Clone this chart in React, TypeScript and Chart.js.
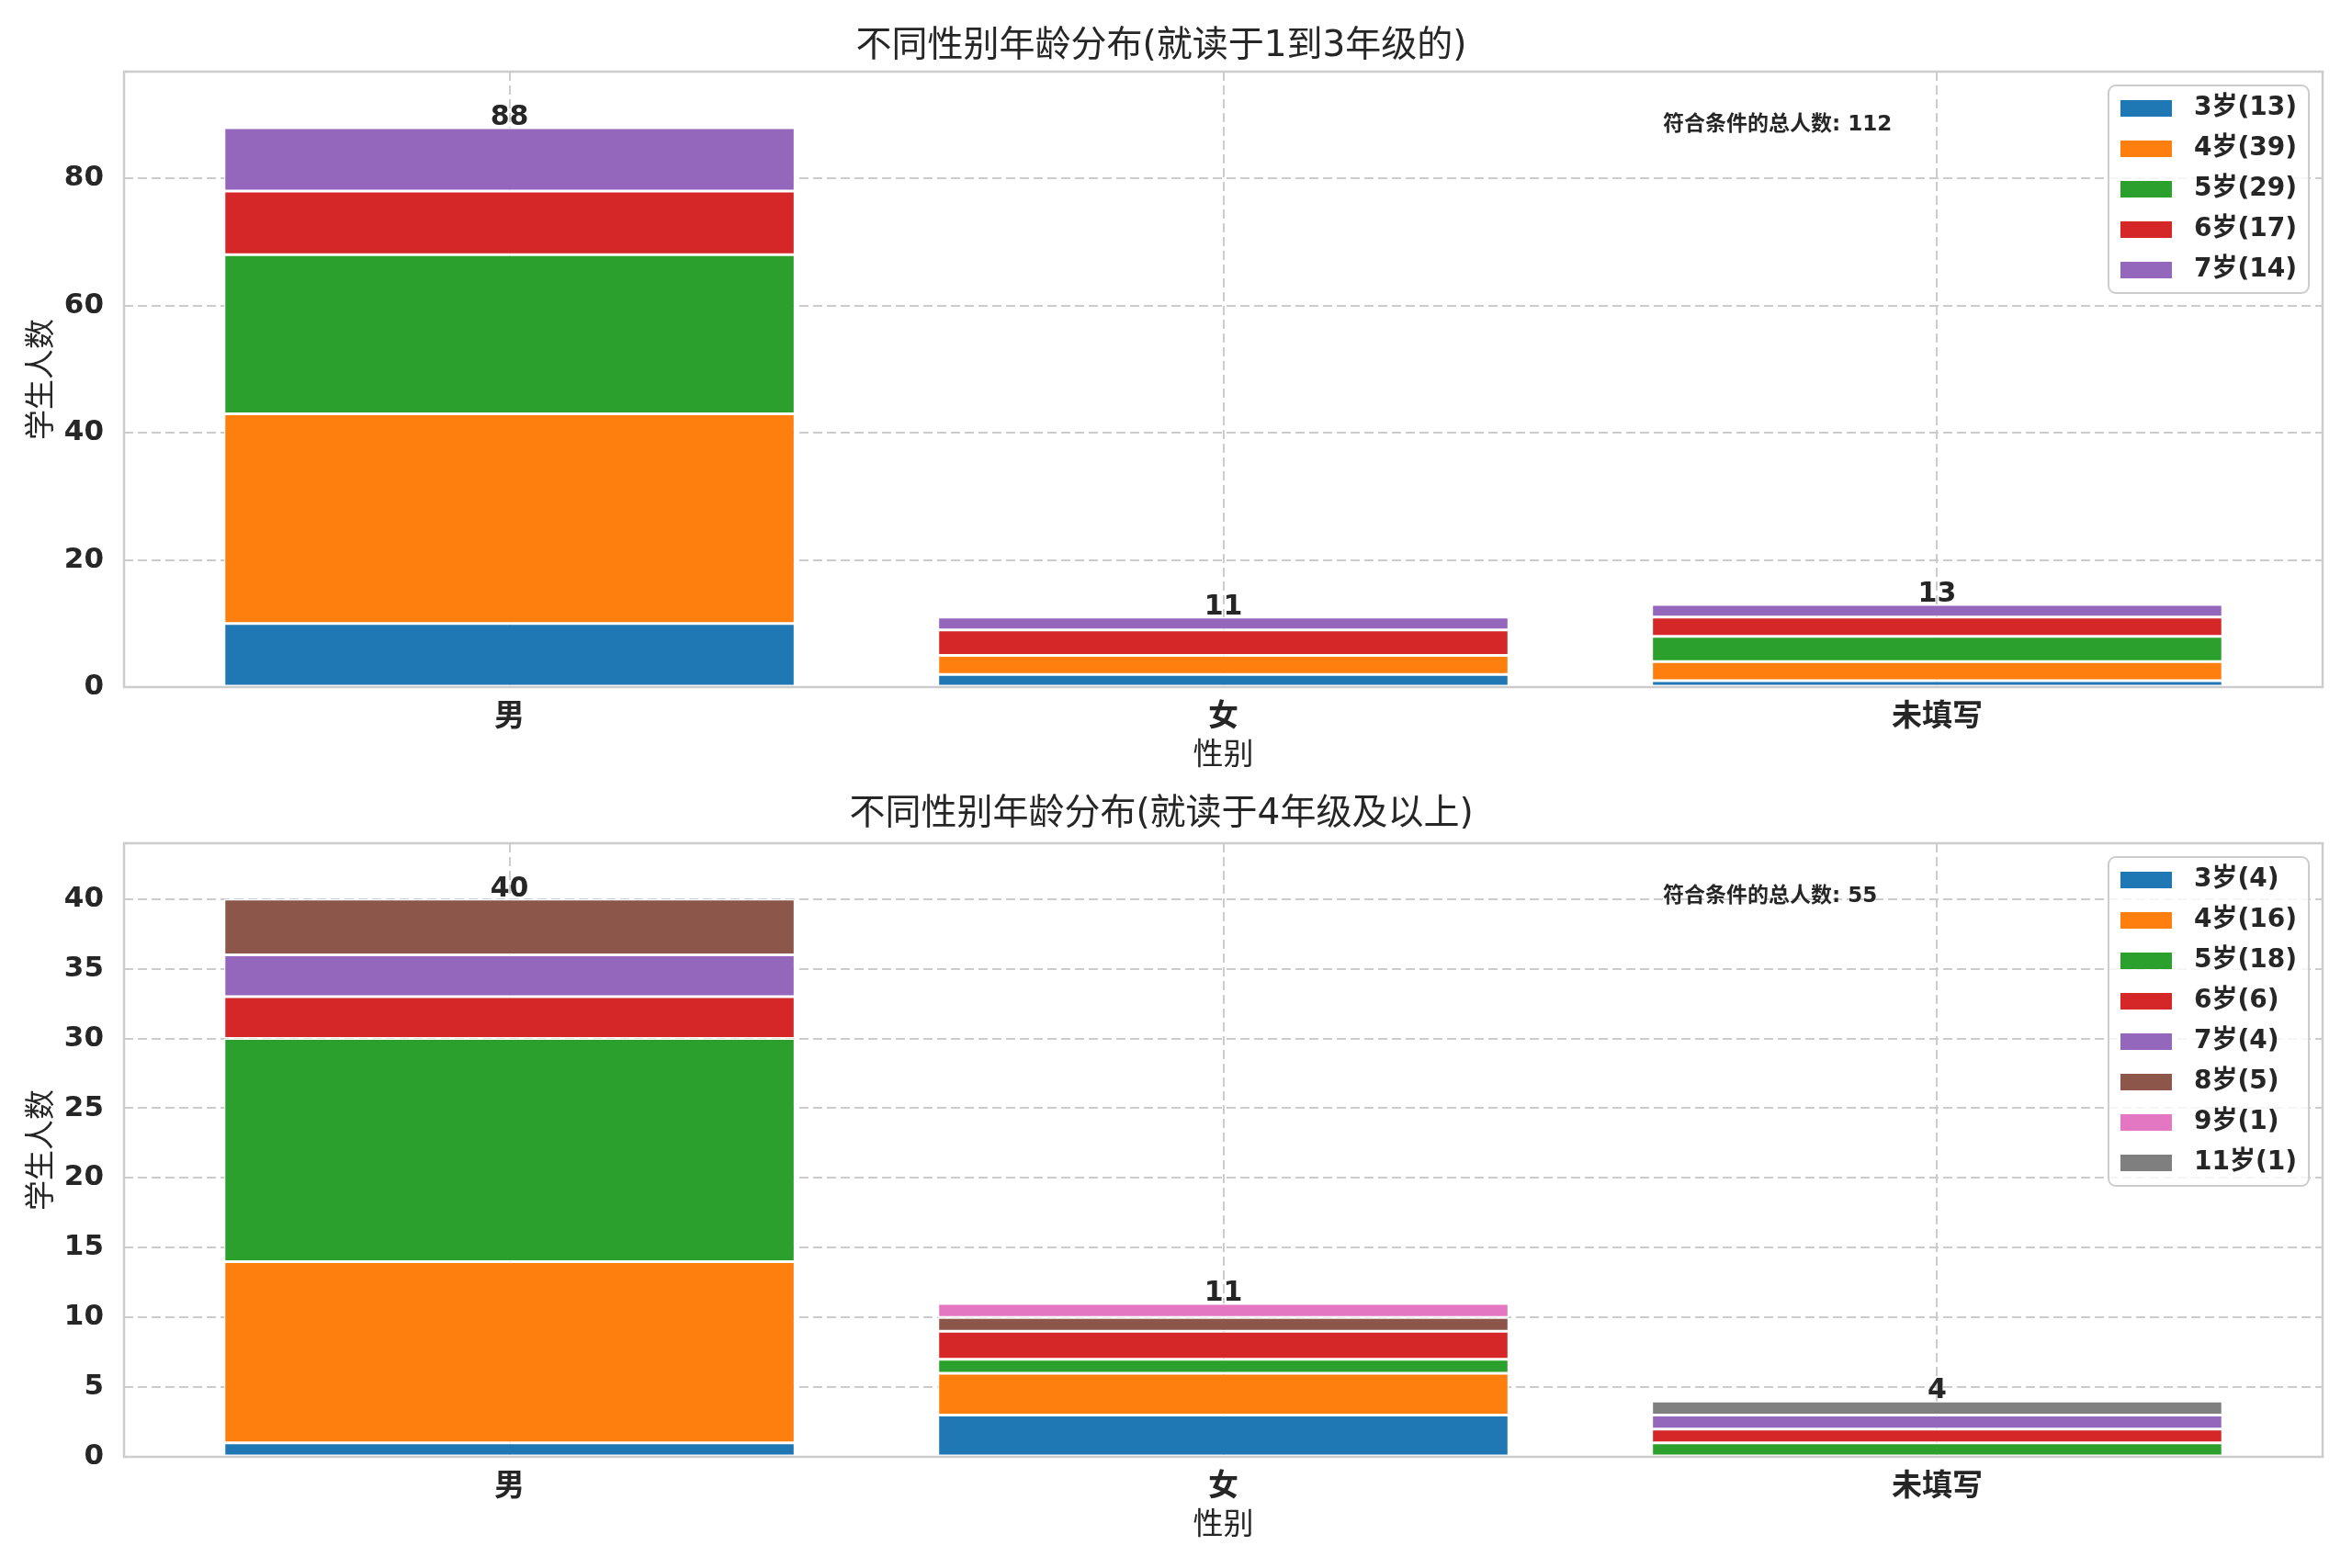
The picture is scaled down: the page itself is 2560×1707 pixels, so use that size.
import React, { useEffect, useRef } from 'react';
import { Chart, registerables, type ChartConfiguration, type Plugin } from 'chart.js';

Chart.register(...registerables);

const FONT = "'DejaVu Sans', 'Noto Sans CJK SC', sans-serif";
const INK = '#262626';
const GRID = '#cccccc';

const genders = ['男', '女', '未填写'];
const xTitle = '性别';
const yTitle = '学生人数';
const totalLabel = '符合条件的总人数';

// grades 1-3
const lowerTitle = '不同性别年龄分布(就读于1到3年级的)';
const lowerAges = ['3岁', '4岁', '5岁', '6岁', '7岁'];
const lowerCounts = [
  [10, 2, 1],
  [33, 3, 3],
  [25, 0, 4],
  [10, 4, 3],
  [10, 2, 2],
];
const lowerStep = 20;

// grades 4+
const upperTitle = '不同性别年龄分布(就读于4年级及以上)';
const upperAges = ['3岁', '4岁', '5岁', '6岁', '7岁', '8岁', '9岁', '11岁'];
const upperCounts = [
  [1, 3, 0],
  [13, 3, 0],
  [16, 1, 1],
  [3, 2, 1],
  [3, 0, 1],
  [4, 1, 0],
  [0, 1, 0],
  [0, 0, 1],
];
const upperStep = 5;

const palette = ['#1f77b4', '#ff7f0e', '#2ca02c', '#d62728', '#9467bd', '#8c564b', '#e377c2', '#7f7f7f'];

const sum = (a: number[]) => a.reduce((s, v) => s + v, 0);

interface PanelProps {
  title: string;
  ages: string[];
  counts: number[][];
  step: number;
  height: number;
  plotTop: number;
  plotBottom: number;
  titleMid: number;
}

const overlay: Plugin = {
  id: 'overlay',
  afterDatasetsDraw(chart, _args, opts: any) {
    const { ctx, chartArea: area } = chart;
    const xs = chart.scales.x;
    const ys = chart.scales.y;
    const ages: string[] = opts.ages;
    const counts: number[][] = opts.counts;
    ctx.save();

    // spines
    ctx.strokeStyle = GRID;
    ctx.lineWidth = 2.5;
    ctx.strokeRect(area.left, area.top, area.right - area.left, area.bottom - area.top);

    // totals above bars
    ctx.fillStyle = INK;
    ctx.font = `bold 30px ${FONT}`;
    ctx.textAlign = 'center';
    ctx.textBaseline = 'alphabetic';
    genders.forEach((_, i) => {
      const total = sum(counts.map((row) => row[i]));
      ctx.fillText(String(total), xs.getPixelForValue(i), ys.getPixelForValue(total) - 3);
    });

    // grand total note
    const grand = sum(counts.map(sum));
    ctx.font = `bold 23px ${FONT}`;
    ctx.textAlign = 'left';
    ctx.textBaseline = 'middle';
    ctx.fillText(
      `${totalLabel}: ${grand}`,
      area.left + 0.7 * (area.right - area.left),
      area.top + 0.087 * (area.bottom - area.top)
    );

    // legend
    const labels = ages.map((a, k) => `${a}(${sum(counts[k])})`);
    ctx.font = `bold 28px ${FONT}`;
    const textW = Math.max(...labels.map((l) => ctx.measureText(l).width));
    const pad = 13;
    const patchW = 56;
    const gap = 24;
    const rowH = 44;
    const first = 25;
    const w = pad + patchW + gap + textW + pad;
    const h = first * 2 + (labels.length - 1) * rowH;
    const right = area.right - 15;
    const left = right - w;
    const top = area.top + 15;
    ctx.beginPath();
    ctx.roundRect(left, top, w, h, 8);
    ctx.fillStyle = 'rgba(255,255,255,0.8)';
    ctx.fill();
    ctx.strokeStyle = GRID;
    ctx.lineWidth = 2;
    ctx.stroke();
    labels.forEach((l, k) => {
      const cy = top + first + k * rowH;
      ctx.fillStyle = palette[k];
      ctx.fillRect(left + pad, cy - 9, patchW, 18);
      ctx.fillStyle = INK;
      ctx.fillText(l, left + pad + patchW + gap, cy);
    });
    ctx.restore();
  },
};

const Panel: React.FC<PanelProps> = ({ title, ages, counts, step, height, plotTop, plotBottom, titleMid }) => {
  const canvasRef = useRef<HTMLCanvasElement | null>(null);
  const chartRef = useRef<Chart | null>(null);

  useEffect(() => {
    if (!canvasRef.current) return;

    const totals = genders.map((_, i) => sum(counts.map((row) => row[i])));
    const yMax = Math.max(...totals) * 1.1;
    const xPad = 0.4 + 0.05 * (genders.length - 1 + 0.8);
    const titleLH = 39 * 1.2;
    const titlePadTop = titleMid - titleLH / 2;
    const axisH = 106;

    const config: ChartConfiguration = {
      type: 'bar',
      data: {
        datasets: ages.map((age, k) => ({
          label: age,
          data: counts[k].map((v, i) => ({ x: i, y: v })),
          backgroundColor: palette[k],
          borderColor: '#ffffff',
          borderWidth: 1.5,
          borderSkipped: false,
          categoryPercentage: 1,
          barPercentage: 0.8,
        })),
      },
      options: {
        animation: false,
        responsive: true,
        maintainAspectRatio: false,
        layout: { padding: { left: 0, top: 0, right: 32, bottom: height - plotBottom - axisH } },
        plugins: {
          legend: { display: false },
          tooltip: { enabled: false },
          title: {
            display: true,
            text: title,
            color: INK,
            font: { family: FONT, size: 39, weight: 'normal', lineHeight: 1.2 },
            padding: { top: titlePadTop, bottom: plotTop - titlePadTop - titleLH },
          },
          overlay: { ages, counts },
        } as any,
        scales: {
          x: {
            type: 'linear',
            stacked: true,
            offset: false,
            min: -xPad,
            max: genders.length - 1 + xPad,
            bounds: 'data',
            afterBuildTicks: (axis: any) => {
              axis.ticks = genders.map((_, i) => ({ value: i }));
            },
            afterFit: (scale: any) => {
              scale.height = axisH;
            },
            ticks: {
              color: INK,
              padding: 14,
              maxRotation: 0,
              font: { family: FONT, size: 33, weight: 'bold', lineHeight: 1.2 },
              callback: (v: any) => genders[Math.round(Number(v))] ?? '',
            },
            grid: { color: GRID, lineWidth: 2, drawTicks: false, offset: false },
            border: { display: false, dash: [10, 5] },
            title: {
              display: true,
              text: xTitle,
              color: INK,
              font: { family: FONT, size: 33, lineHeight: 1.2 },
              padding: { top: 0, bottom: 11 },
            },
          },
          y: {
            type: 'linear',
            stacked: true,
            min: 0,
            max: yMax,
            bounds: 'data',
            afterBuildTicks: (axis: any) => {
              axis.ticks = axis.ticks.filter((t: any) => Math.abs(t.value / step - Math.round(t.value / step)) < 1e-6);
            },
            afterFit: (scale: any) => {
              scale.width = 135;
            },
            ticks: {
              stepSize: step,
              includeBounds: false,
              color: INK,
              padding: 22,
              font: { family: FONT, size: 31, weight: 'bold', lineHeight: 1.2 },
            },
            grid: { color: GRID, lineWidth: 2, drawTicks: false },
            border: { display: false, dash: [10, 5] },
            title: {
              display: true,
              text: yTitle,
              color: INK,
              font: { family: FONT, size: 33, lineHeight: 1.2 },
              padding: { top: 27, bottom: 0 },
            },
          },
        },
      },
      plugins: [overlay],
    };

    if (chartRef.current) {
      chartRef.current.destroy();
      chartRef.current = null;
    }
    chartRef.current = new Chart(canvasRef.current, config);

    return () => {
      if (chartRef.current) {
        chartRef.current.destroy();
        chartRef.current = null;
      }
    };
  }, [title, ages, counts, step, height, plotTop, plotBottom, titleMid]);

  return (
    <div style={{ position: 'relative', width: 2560, height }}>
      <canvas ref={canvasRef} />
    </div>
  );
};

export default function App() {
  return (
    <div style={{ position: 'fixed', left: 0, top: 0, width: 2560, height: 1707, background: '#ffffff' }}>
      <Panel
        title={lowerTitle}
        ages={lowerAges}
        counts={lowerCounts}
        step={lowerStep}
        height={854}
        plotTop={78}
        plotBottom={748}
        titleMid={51}
      />
      <Panel
        title={upperTitle}
        ages={upperAges}
        counts={upperCounts}
        step={upperStep}
        height={853}
        plotTop={64}
        plotBottom={732}
        titleMid={33}
      />
    </div>
  );
}
